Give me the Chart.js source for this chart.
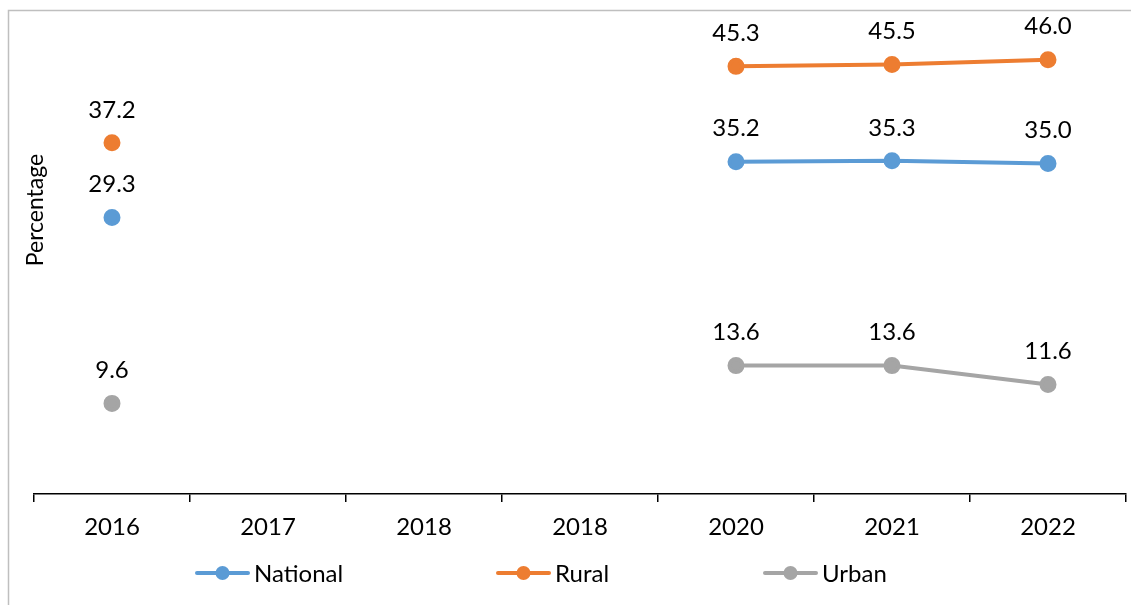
<!DOCTYPE html>
<html><head><meta charset="utf-8">
<script src="https://cdn.jsdelivr.net/npm/chart.js@4/dist/chart.umd.min.js"></script>
<style>html,body{margin:0;padding:0;background:#fff}#wrap{width:1131px;height:605px;position:relative}</style>
</head><body><div id="wrap"><canvas id="c" width="1131" height="605"></canvas></div>
<script>
const categories = ['2016','2017','2018','2018','2020','2021','2022'];
const national = [29.3, null, null, null, 35.2, 35.3, 35.0];
const rural = [37.2, null, null, null, 45.3, 45.5, 46.0];
const urban = [9.6, null, null, null, 13.6, 13.6, 11.6];
const seriesNames = ['National','Rural','Urban'];
const colors = ['#5B9BD5','#ED7D31','#A5A5A5'];
const FONT = 'Lato, Calibri, Carlito, sans-serif';

const extras = {
  id:'extras',
  beforeDraw(chart){
    const c = chart.ctx;
    c.save();
    c.strokeStyle = '#BFBFBF'; c.lineWidth = 1.5;
    c.strokeRect(8.5, 10.5, 1140, 620);
    c.restore();
  },
  afterDatasetsDraw(chart){
    const c = chart.ctx;
    c.save();
    c.font = '24px ' + FONT; c.fillStyle = '#000'; c.textAlign = 'center'; c.textBaseline = 'middle';
    chart.data.datasets.forEach((ds, i) => {
      const meta = chart.getDatasetMeta(i);
      meta.data.forEach((pt, j) => {
        const v = ds.data[j];
        if (v === null) return;
        c.fillText(v.toFixed(1), pt.x, pt.y - 33);
      });
    });
    // y title
    c.save();
    c.translate(36, 210); c.rotate(-Math.PI/2);
    c.font = '23px ' + FONT; c.fillText('Percentage', 0, 0);
    c.restore();
    // legend
    const legX = [195, 496, 763];
    const ly = 573;
    seriesNames.forEach((n, i) => {
      const x = legX[i];
      c.strokeStyle = colors[i]; c.lineWidth = 4; c.lineCap = 'round';
      c.beginPath(); c.moveTo(x + 2, ly); c.lineTo(x + 53, ly); c.stroke();
      c.fillStyle = colors[i]; c.beginPath(); c.arc(x + 27.5, ly, 7, 0, Math.PI*2); c.fill();
      c.fillStyle = '#000'; c.textAlign = 'left'; c.font = '24px ' + FONT;
      c.fillText(n, x + 59, ly + 1);
    });
    c.restore();
  }
};

const mk = (label, data, col) => ({label, data, borderColor: col, backgroundColor: col,
  pointBackgroundColor: col, pointBorderColor: col, borderWidth: 4, pointRadius: 6.5,
  pointHoverRadius: 6.5, spanGaps: false, tension: 0});

new Chart(document.getElementById('c'), {
  type: 'line',
  data: { labels: categories, datasets: [
    mk(seriesNames[0], national, colors[0]),
    mk(seriesNames[1], rural, colors[1]),
    mk(seriesNames[2], urban, colors[2])
  ]},
  options: {
    responsive: false, animation: false,
    layout: { autoPadding: false, padding: { left: 34, right: 5, top: 22, bottom: 0 } },
    plugins: { legend: { display: false }, tooltip: { enabled: false } },
    scales: {
      y: { display: false, min: 0, max: 50 },
      x: {
        offset: true,
        grid: { offset: true, drawOnChartArea: false, drawTicks: true, tickLength: 8, color: '#000', lineWidth: 1.5 },
        border: { display: true, color: '#000', width: 1.5 },
        ticks: { color: '#000', font: { family: FONT, size: 24 }, padding: 11, maxRotation: 0, autoSkip: false },
        afterFit(s){ s.height = 111; s.paddingLeft = 0; s.paddingRight = 0; }
      }
    }
  },
  plugins: [extras]
});
</script></body></html>
